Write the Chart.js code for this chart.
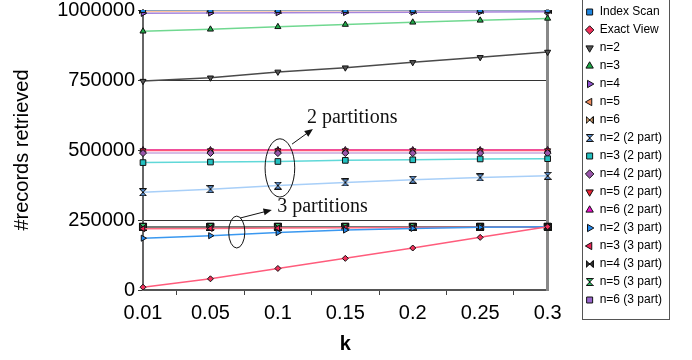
<!DOCTYPE html>
<html>
<head>
<meta charset="utf-8">
<script src="https://cdn.jsdelivr.net/npm/chart.js@4/dist/chart.umd.min.js"></script>
<style>
  html, body { margin: 0; padding: 0; background: #fff; }
  #wrap { width: 692px; height: 360px; position: relative; }
</style>
</head>
<body>
<div id="wrap"><canvas id="recChart"></canvas></div>
<script>
// records retrieved vs k, one series per access method
var K = ['0.01', '0.05', '0.1', '0.15', '0.2', '0.25', '0.3'];
var Y_TICKS = [0, 250000, 500000, 750000, 1000000];

var INDEX_SCAN = [1000000, 1000000, 1000000, 1000000, 1000000, 1000000, 1000000];
var EXACT_VIEW = [10000, 40000, 77000, 113000, 150000, 188000, 226000];
var N2 = [746000, 758000, 779000, 794000, 813000, 831000, 850000];
var N3 = [924000, 931000, 940000, 948000, 956000, 963000, 970000];
var N4 = [988000, 989000, 990000, 991000, 992000, 993000, 994000];
var N5 = [995000, 996000, 996500, 997000, 997500, 998000, 998500];
var N6 = [999000, 999000, 999000, 999000, 999000, 999000, 999000];
var N2_2P = [349000, 360000, 373000, 384000, 394000, 402000, 408000];
var N3_2P = [455000, 457000, 459000, 463000, 465000, 468000, 469000];
var N4_2P = [489000, 489000, 489000, 489000, 489000, 489000, 489000];
var N5_2P = [498000, 498000, 498000, 498000, 498000, 498000, 498000];
var N6_2P = [500000, 500000, 500000, 500000, 500000, 500000, 500000];
var N2_3P = [185000, 194000, 205000, 214000, 220000, 224000, 226000];
var N3_3P = [219000, 220000, 221000, 222000, 223000, 224000, 225000];
var N4_3P = [225000, 225000, 225000, 225000, 225000, 225000, 225000];
var N5_3P = [225000, 225000, 225000, 225000, 225000, 225000, 225000];
var N6_3P = [226000, 226000, 226000, 226000, 226000, 226000, 226000];

(function () {
  var SANS = '"Liberation Sans", Arial, sans-serif',
      SERIF = '"Liberation Serif", "Times New Roman", serif';

  // bowtie / hourglass markers (Chart.js has none)
  function tie(fill, upright) {
    var c = document.createElement('canvas'); c.width = 8; c.height = 8;
    var g = c.getContext('2d');
    g.beginPath();
    if (upright) { g.moveTo(0.5, 0.5); g.lineTo(7.5, 0.5); g.lineTo(0.5, 7.5); g.lineTo(7.5, 7.5); }
    else { g.moveTo(0.5, 0.5); g.lineTo(7.5, 7.5); g.lineTo(7.5, 0.5); g.lineTo(0.5, 7.5); }
    g.closePath();
    g.fillStyle = fill; g.fill();
    g.strokeStyle = '#111'; g.lineWidth = 1; g.stroke();
    return c;
  }

  function ds(label, data, line, fill, style, rot, r) {
    return { label: label, data: data, borderColor: line, borderWidth: 1.5, backgroundColor: fill,
             pointBackgroundColor: fill, pointBorderColor: '#111', pointBorderWidth: 1,
             pointStyle: style, pointRotation: rot || 0, pointRadius: r || 3.5, tension: 0, fill: false };
  }

  // annotation callouts, in data units (category index, value)
  var NOTES = [
    { text: '2 partitions', at: [2.43, 614000], from: [2.21, 521000], to: [2.52, 575000], ring: [2.03, 436000, 0.22, 104000] },
    { text: '3 partitions', at: [1.99, 296000], from: [1.44, 257000], to: [1.91, 286000], ring: [1.39, 207000, 0.12, 57000] }
  ];

  var callouts = {
    id: 'callouts',
    afterDatasetsDraw: function (chart) {
      var ctx = chart.ctx, xs = chart.scales.x, ys = chart.scales.y;
      ctx.save();
      ctx.strokeStyle = '#111'; ctx.fillStyle = '#111'; ctx.lineWidth = 1;
      NOTES.forEach(function (n) {
        var cx = xs.getPixelForValue(n.ring[0]), cy = ys.getPixelForValue(n.ring[1]);
        var rx = xs.getPixelForValue(n.ring[0] + n.ring[2]) - cx, ry = cy - ys.getPixelForValue(n.ring[1] + n.ring[3]);
        ctx.beginPath(); ctx.ellipse(cx, cy, rx, ry, 0, 0, Math.PI * 2); ctx.stroke();
        var x0 = xs.getPixelForValue(n.from[0]), y0 = ys.getPixelForValue(n.from[1]);
        var x1 = xs.getPixelForValue(n.to[0]), y1 = ys.getPixelForValue(n.to[1]);
        var a = Math.atan2(y1 - y0, x1 - x0);
        ctx.beginPath(); ctx.moveTo(x0, y0); ctx.lineTo(x1 - 6 * Math.cos(a), y1 - 6 * Math.sin(a)); ctx.stroke();
        ctx.beginPath(); ctx.moveTo(x1, y1);
        ctx.lineTo(x1 - 9 * Math.cos(a - 0.4), y1 - 9 * Math.sin(a - 0.4));
        ctx.lineTo(x1 - 9 * Math.cos(a + 0.4), y1 - 9 * Math.sin(a + 0.4));
        ctx.closePath(); ctx.fill();
        ctx.font = '20px ' + SERIF; ctx.textAlign = 'left'; ctx.textBaseline = 'middle';
        ctx.fillText(n.text, xs.getPixelForValue(n.at[0]), ys.getPixelForValue(n.at[1]));
      });
      ctx.restore();
    }
  };

  // frame round the legend
  var legendBox = {
    id: 'legendBox',
    afterDraw: function (chart) {
      var lg = chart.legend, hb = lg.legendHitBoxes;
      if (!hb || !hb.length) return;
      var last = hb[hb.length - 1], ctx = chart.ctx;
      ctx.save();
      ctx.strokeStyle = '#555'; ctx.lineWidth = 1;
      ctx.strokeRect(Math.round(lg.left) + 2.5, -5.5, Math.round(lg.width) - 5, last.top + last.height + 19);
      ctx.restore();
    }
  };

  function build() {
    var cv = document.getElementById('recChart');
    new Chart(cv.getContext('2d'), {
      type: 'line',
      data: {
        labels: K,
        datasets: [
          ds('Index Scan', INDEX_SCAN, '#6f9fcc', '#1f86e0', 'rect'),
          ds('Exact View', EXACT_VIEW, '#ff5c7c', '#f0305a', 'rectRot', 0, 3),
          ds('n=2', N2, '#4a4a4a', '#555555', 'triangle', 180),
          ds('n=3', N3, '#70d890', '#1faa48', 'triangle'),
          ds('n=4', N4, '#a585dd', '#8e4fd0', 'triangle', 90),
          ds('n=5', N5, '#ffc49a', '#f08a5a', 'triangle', 270),
          ds('n=6', N6, '#c4a080', tie('#c89868', false), tie('#c89868', false)),
          ds('n=2 (2 part)', N2_2P, '#a8cff8', tie('#5a8fd0', true), tie('#5a8fd0', true)),
          ds('n=3 (2 part)', N3_2P, '#60d8d8', '#22c0c0', 'rect', 0, 4),
          ds('n=4 (2 part)', N4_2P, '#c9a9dc', '#9955aa', 'rectRot'),
          ds('n=5 (2 part)', N5_2P, '#ff5577', '#ee2233', 'triangle', 180),
          ds('n=6 (2 part)', N6_2P, '#e0108c', '#ee11cc', 'triangle'),
          ds('n=2 (3 part)', N2_3P, '#3a98f0', '#2288ee', 'triangle', 90),
          ds('n=3 (3 part)', N3_3P, '#ff6a80', '#ee2255', 'triangle', 270),
          ds('n=4 (3 part)', N4_3P, '#666666', tie('#333333', false), tie('#333333', false)),
          ds('n=5 (3 part)', N5_3P, '#90c8a0', tie('#33bb66', true), tie('#33bb66', true)),
          ds('n=6 (3 part)', N6_3P, '#8a7cc0', '#9966cc', 'rect', 0, 5)
        ]
      },
      options: {
        responsive: true, maintainAspectRatio: false, animation: false,
        layout: { padding: { top: 0, right: 20, left: 0, bottom: 0 } },
        plugins: {
          legend: { position: 'right', align: 'start',
            labels: { font: { family: SANS, size: 12 }, color: '#000', usePointStyle: true,
                      boxWidth: 8, boxHeight: 6, padding: 6 } },
          tooltip: { enabled: false }
        },
        scales: {
          x: { type: 'category', offset: false,
            title: { display: true, text: 'k', font: { family: SANS, size: 20, weight: 'bold' }, color: '#000', padding: { top: 0, bottom: 4 } },
            grid: { offset: true, drawOnChartArea: false, tickLength: 5, color: '#444' },
            border: { color: '#555', width: 2 },
            ticks: { font: { family: SANS, size: 20 }, color: '#000', padding: 6, maxRotation: 0, autoSkip: false },
            afterFit: function (s) { s.height = 70; } },
          y: { position: 'left', min: 0, max: 1000000,
            afterBuildTicks: function (s) { s.ticks = Y_TICKS.map(function (v) { return { value: v }; }); },
            title: { display: true, text: '#records retrieved', font: { family: SANS, size: 20 }, color: '#000', padding: { top: 10, bottom: 0 } },
            grid: { color: '#333', tickLength: 5 },
            border: { color: '#666', width: 2 },
            ticks: { font: { family: SANS, size: 20, lineHeight: 0.7 }, color: '#000', padding: 3,
                     callback: function (v) { return String(v); } },
            afterFit: function (s) { s.width = 143; } },
          yR: { position: 'right', min: 0, max: 1000000,
            grid: { drawOnChartArea: false, drawTicks: false },
            border: { color: '#888', width: 3 },
            ticks: { display: false },
            afterFit: function (s) { s.width = 32; } }
        }
      },
      plugins: [callouts, legendBox]
    });
  }

  build();
})();
</script>
</body>
</html>
